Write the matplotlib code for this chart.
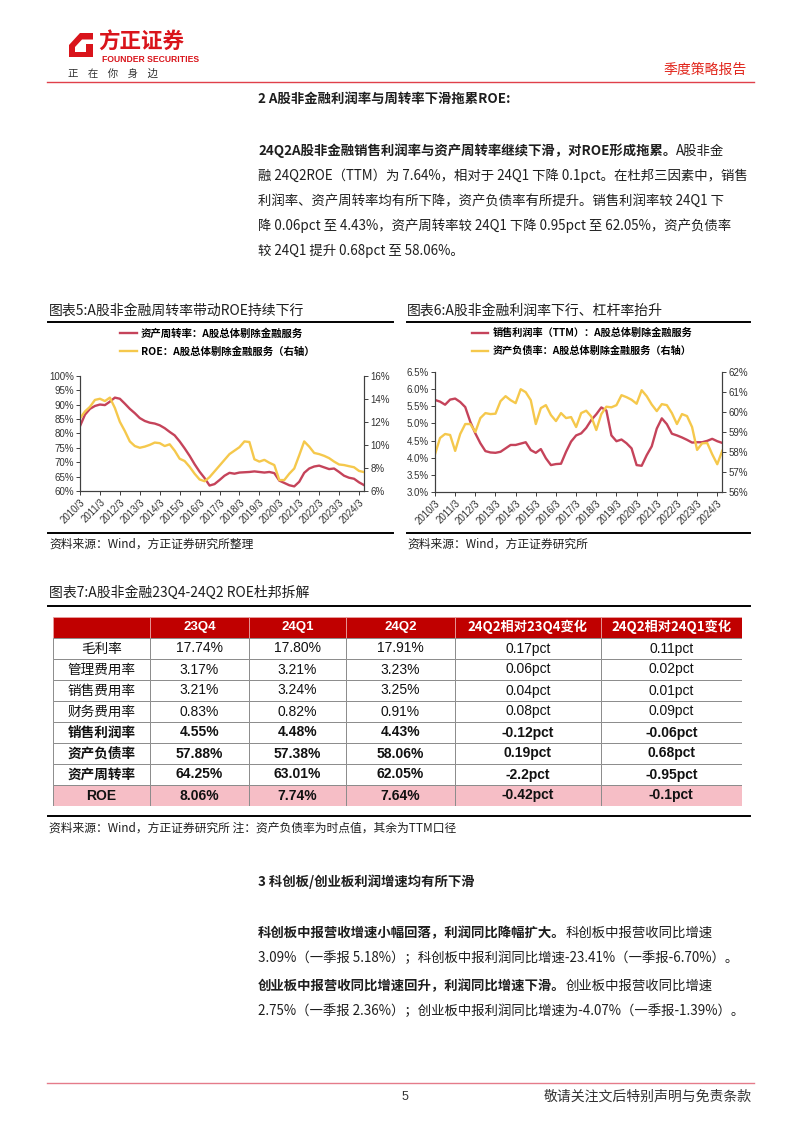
import matplotlib
matplotlib.use('Agg')
import matplotlib.pyplot as plt
from matplotlib.patches import Polygon, Rectangle
from matplotlib.lines import Line2D
import numpy as np

plt.rcParams['font.family'] = ['Noto Sans CJK SC', 'DejaVu Sans']
plt.rcParams['axes.unicode_minus'] = False

# ---------------- data ----------------
tick_labels = ['2010/3', '2011/3', '2012/3', '2013/3', '2014/3', '2015/3', '2016/3',
               '2017/3', '2018/3', '2019/3', '2020/3', '2021/3', '2022/3', '2023/3', '2024/3']

# 图表5 (quarterly 2010Q1 - 2024Q2)
turnover = [82.5, 86.5, 88.5, 89.5, 90.0, 89.8, 91.0, 92.4, 92.0, 90.3,
            88.5, 87.0, 85.3, 84.3, 83.7, 83.4, 82.8, 81.8, 80.5, 79.3,
            77.2, 74.8, 72.2, 69.3, 66.7, 64.5, 61.9, 62.4, 63.8, 65.3,
            66.3, 66.0, 66.4, 66.5, 66.6, 66.8, 66.6, 66.4, 66.6, 66.2,
            63.6, 62.8, 62.0, 61.6, 63.2, 66.3, 67.8, 68.5, 68.8, 68.2,
            67.6, 67.8, 66.6, 65.3, 64.6, 64.25, 63.01, 62.05]
roe = [12.3, 12.9, 13.3, 13.9, 14.0, 13.8, 14.1, 13.2, 12.0, 11.2,
       10.3, 9.9, 9.75, 9.85, 10.0, 10.2, 10.15, 9.9, 10.05, 9.5,
       8.8, 8.6, 8.1, 7.5, 7.0, 6.85, 7.2, 7.7, 8.2, 8.7,
       9.2, 9.5, 9.8, 10.3, 10.25, 8.75, 8.55, 8.7, 8.45, 8.25,
       6.95, 6.95, 7.5, 7.95, 9.1, 10.3, 9.85, 9.3, 9.2, 9.05,
       8.85, 8.55, 8.3, 8.25, 8.15, 8.06, 7.74, 7.64]

# 图表6
margin = [5.69, 5.64, 5.55, 5.70, 5.73, 5.63, 5.48, 5.05, 4.71, 4.42,
          4.19, 4.15, 4.14, 4.17, 4.27, 4.37, 4.37, 4.41, 4.45, 4.22,
          4.14, 4.25, 3.98, 3.78, 3.81, 3.82, 4.17, 4.47, 4.65, 4.71,
          4.87, 5.10, 5.27, 5.47, 5.38, 4.65, 4.48, 4.53, 4.42, 4.27,
          3.78, 3.76, 4.07, 4.33, 4.85, 5.15, 4.98, 4.70, 4.65, 4.59,
          4.52, 4.44, 4.45, 4.45, 4.49, 4.55, 4.48, 4.43]
debt = [57.88, 58.7, 58.9, 58.85, 58.05, 58.9, 59.4, 59.4, 59.0, 59.7,
        59.95, 59.9, 59.92, 60.55, 60.8, 60.6, 60.45, 61.15, 61.0, 60.6,
        59.4, 60.2, 60.35, 59.85, 59.55, 59.95, 59.7, 59.75, 59.25, 59.95,
        60.07, 59.78, 59.1, 59.9, 60.27, 60.24, 60.35, 60.85, 60.75, 60.62,
        60.42, 61.1, 60.8, 60.38, 60.05, 60.4, 60.35, 59.95, 59.4, 59.9,
        59.8, 59.25, 58.1, 58.43, 58.45, 57.88, 57.38, 58.06]

# 图表7
col_headers = ['', '23Q4', '24Q1', '24Q2', '24Q2相对23Q4变化', '24Q2相对24Q1变化']
row_labels = ['毛利率', '管理费用率', '销售费用率', '财务费用率', '销售利润率', '资产负债率', '资产周转率', 'ROE']
v23q4 = ['17.74%', '3.17%', '3.21%', '0.83%', '4.55%', '57.88%', '64.25%', '8.06%']
v24q1 = ['17.80%', '3.21%', '3.24%', '0.82%', '4.48%', '57.38%', '63.01%', '7.74%']
v24q2 = ['17.91%', '3.23%', '3.25%', '0.91%', '4.43%', '58.06%', '62.05%', '7.64%']
chg_vs_23q4 = ['0.17pct', '0.06pct', '0.04pct', '0.08pct', '-0.12pct', '0.19pct', '-2.2pct', '-0.42pct']
chg_vs_24q1 = ['0.11pct', '0.02pct', '0.01pct', '0.09pct', '-0.06pct', '0.68pct', '-0.95pct', '-0.1pct']

# ---------------- styles ----------------
RED = '#C5435A'
YEL = '#F5C84C'
BRAND = '#D9141B'
SANS = ['Liberation Sans', 'DejaVu Sans']
CJK = ['Noto Sans CJK SC', 'DejaVu Sans']
TXT = '#1e1e1e'

W, H = 802, 1133
fig = plt.figure(figsize=(W / 100, H / 100), dpi=100)
fig.patch.set_facecolor('white')
renderer = fig.canvas.get_renderer()


def fx(x):
    return x / W


def fy(y):
    return 1 - y / H


def hline(x0, x1, y, color='black', lw=1.0):
    fig.add_artist(Line2D([fx(x0), fx(x1)], [fy(y), fy(y)], color=color, lw=lw,
                          transform=fig.transFigure))


def seg_text(x, y, segments, size, color=TXT):
    cx = x
    for s, w in segments:
        t = fig.text(fx(cx), fy(y), s, fontsize=size, fontweight=w, color=color,
                     va='center', ha='left', family=CJK)
        cx += t.get_window_extent(renderer).width
    return cx


# ---------------- header ----------------
logo_outer = Polygon([(fx(69), fy(45)), (fx(80), fy(33)), (fx(93), fy(33)), (fx(93), fy(57)),
                      (fx(69), fy(57))], closed=True, facecolor=BRAND, edgecolor='none',
                     transform=fig.transFigure)
logo_inner = Polygon([(fx(75), fy(47)), (fx(82), fy(39.5)), (fx(93), fy(39.5)), (fx(93), fy(44)),
                      (fx(86), fy(44)), (fx(86), fy(52)), (fx(75), fy(52))], closed=True,
                     facecolor='white', edgecolor='none', transform=fig.transFigure)
fig.add_artist(logo_outer)
fig.add_artist(logo_inner)
fig.text(fx(98), fy(42), '方正证券', fontsize=15.5, fontweight='bold', color=BRAND,
         va='center', ha='left', family=CJK)
fig.text(fx(102), fy(60), 'FOUNDER SECURITIES', fontsize=6.2, fontweight='bold', color=BRAND,
         va='center', ha='left', family=['Liberation Sans Narrow', 'Liberation Sans', 'DejaVu Sans'])
fig.text(fx(68), fy(74), '正    在    你    身    边', fontsize=7.5, color='#333333',
         va='center', ha='left', family=CJK)
fig.text(fx(747), fy(70), '季度策略报告', fontsize=10, color='#E1251B', va='center', ha='right',
         family=CJK)
hline(47, 754, 82, color='#E0404A', lw=1.0)

# ---------------- section 2 text ----------------
probe = fig.text(0, 0, '融 24Q2ROE（TTM）为 7.64%，相对于 24Q1 下降 0.1pct。在杜邦三因素中，销售',
                 fontsize=10, family=CJK)
pw = probe.get_window_extent(renderer).width
probe.remove()
BODY = 10 * 490 / pw

X0 = 258
seg_text(X0, 99, [('2 A股非金融利润率与周转率下滑拖累ROE:', 'bold')], BODY)
seg_text(X0, 151, [('24Q2A股非金融销售利润率与资产周转率继续下滑，对ROE形成拖累。', 'bold'),
                   ('A股非金', 'normal')], BODY)
seg_text(X0, 176, [('融 24Q2ROE（TTM）为 7.64%，相对于 24Q1 下降 0.1pct。在杜邦三因素中，销售', 'normal')], BODY)
seg_text(X0, 201, [('利润率、资产周转率均有所下降，资产负债率有所提升。销售利润率较 24Q1 下', 'normal')], BODY)
seg_text(X0, 226, [('降 0.06pct 至 4.43%，资产周转率较 24Q1 下降 0.95pct 至 62.05%，资产负债率', 'normal')], BODY)
seg_text(X0, 251, [('较 24Q1 提升 0.68pct 至 58.06%。', 'normal')], BODY)

# ---------------- chart titles ----------------
fig.text(fx(49), fy(311), '图表5:A股非金融周转率带动ROE持续下行', fontsize=10, color=TXT,
         va='center', ha='left', family=CJK)
fig.text(fx(407), fy(311), '图表6:A股非金融利润率下行、杠杆率抬升', fontsize=10, color=TXT,
         va='center', ha='left', family=CJK)
hline(48, 393, 321.5, lw=1.4)
hline(407, 750, 321.5, lw=1.4)
hline(48, 393, 533, lw=1.4)
hline(407, 750, 533, lw=1.4)
fig.text(fx(49), fy(544), '资料来源：Wind，方正证券研究所整理', fontsize=8.5, color=TXT,
         style='italic', va='center', ha='left', family=CJK)
fig.text(fx(407), fy(544), '资料来源：Wind，方正证券研究所', fontsize=8.5, color=TXT,
         style='italic', va='center', ha='left', family=CJK)

x = np.arange(len(turnover))
tick_pos = list(range(0, 57, 4))


def style_axes(ax, axr):
    for a in (ax, axr):
        a.spines['top'].set_visible(False)
        for s in ('left', 'right', 'bottom'):
            a.spines[s].set_color('#404040')
            a.spines[s].set_linewidth(0.8)
        a.tick_params(axis='both', direction='out', length=3, width=0.7, color='#404040',
                      labelsize=7, labelcolor='#333333', pad=1.5)
        for lab in a.get_yticklabels():
            lab.set_family(SANS)
    ax.set_xlim(0, 57)
    ax.set_xticks(tick_pos)
    ax.set_xticklabels(tick_labels, rotation=45, ha='right', rotation_mode='anchor',
                       family=SANS, fontsize=7, color='#333333')
    ax.set_facecolor('none')


# ---------------- chart 5 ----------------
ax5 = fig.add_axes([fx(80), fy(491), fx(364) - fx(80), (491 - 375.7) / H])
ax5.plot(x, turnover, color=RED, lw=1.7)
ax5.set_ylim(60, 100)
ax5.set_yticks(range(60, 101, 5))
ax5.set_yticklabels([f'{v}%' for v in range(60, 101, 5)])
ax5r = ax5.twinx()
ax5r.plot(x, roe, color=YEL, lw=1.7)
ax5r.set_ylim(6, 16)
ax5r.set_yticks(range(6, 17, 2))
ax5r.set_yticklabels([f'{v}%' for v in range(6, 17, 2)])
style_axes(ax5, ax5r)

h5 = [Line2D([], [], color=RED, lw=1.7), Line2D([], [], color=YEL, lw=1.7)]
fig.legend(h5, ['资产周转率：A股总体剔除金融服务', 'ROE：A股总体剔除金融服务（右轴）'],
           loc='upper left', bbox_to_anchor=(fx(120), fy(328)), frameon=False,
           prop=dict(family=CJK, weight='bold', size=7.5), handlelength=1.6, handletextpad=0.4,
           labelspacing=0.75, borderaxespad=0, borderpad=0)

# ---------------- chart 6 ----------------
ax6 = fig.add_axes([fx(435), fy(491.7), fx(722.3) - fx(435), (491.7 - 372.3) / H])
ax6.plot(x, margin, color=RED, lw=1.7)
ax6.set_ylim(3.0, 6.5)
yt6 = [3.0, 3.5, 4.0, 4.5, 5.0, 5.5, 6.0, 6.5]
ax6.set_yticks(yt6)
ax6.set_yticklabels([f'{v:.1f}%' for v in yt6])
ax6r = ax6.twinx()
ax6r.plot(x, debt, color=YEL, lw=1.7)
ax6r.set_ylim(56, 62)
ax6r.set_yticks(range(56, 63))
ax6r.set_yticklabels([f'{v}%' for v in range(56, 63)])
style_axes(ax6, ax6r)

h6 = [Line2D([], [], color=RED, lw=1.7), Line2D([], [], color=YEL, lw=1.7)]
fig.legend(h6, ['销售利润率（TTM）：A股总体剔除金融服务', '资产负债率：A股总体剔除金融服务（右轴）'],
           loc='upper left', bbox_to_anchor=(fx(472), fy(328)), frameon=False,
           prop=dict(family=CJK, weight='bold', size=7.3), handlelength=1.6, handletextpad=0.4,
           labelspacing=0.78, borderaxespad=0, borderpad=0)

# ---------------- table 7 ----------------
fig.text(fx(49), fy(593), '图表7:A股非金融23Q4-24Q2 ROE杜邦拆解', fontsize=10, color=TXT,
         va='center', ha='left', family=CJK)
hline(48, 750, 606, lw=1.4)

T_LEFT, T_RIGHT, T_TOP, T_BOT = 52.8, 742.0, 616.5, 805.5
tab = fig.add_axes([fx(T_LEFT), fy(T_BOT), fx(T_RIGHT) - fx(T_LEFT), (T_BOT - T_TOP) / H])
tab.set_xlim(0, T_RIGHT - T_LEFT)
tab.set_ylim(T_BOT - T_TOP, 0)
tab.axis('off')
col_edges = [0, 97.2, 195.9, 293.2, 402.2, 547.8, 689.2]
row_h = 21.0
columns = [row_labels, v23q4, v24q1, v24q2, chg_vs_23q4, chg_vs_24q1]
n_rows = len(row_labels)

# header
for c in range(6):
    tab.add_patch(Rectangle((col_edges[c], 0), col_edges[c + 1] - col_edges[c], row_h,
                            facecolor='#C00000', edgecolor='#E8A0A0', lw=0.6))
    if col_headers[c]:
        tab.text((col_edges[c] + col_edges[c + 1]) / 2, row_h / 2, col_headers[c], color='white',
                 fontsize=9.5, fontweight='bold', ha='center', va='center',
                 family=['Liberation Sans', 'Noto Sans CJK SC'] if c < 4 else CJK)
# body
for r in range(n_rows):
    y0 = row_h * (r + 1)
    fill = '#F6BEC6' if row_labels[r] == 'ROE' else 'white'
    bold = 'bold' if r >= 4 else 'normal'
    for c in range(6):
        tab.add_patch(Rectangle((col_edges[c], y0), col_edges[c + 1] - col_edges[c], row_h,
                                facecolor=fill, edgecolor='#8C8C8C', lw=0.7))
        txt = columns[c][r]
        if c == 0:
            fam = SANS if txt == 'ROE' else CJK
            size = 10 if txt == 'ROE' else 9.8
        else:
            fam = SANS
            size = 10
        tab.text((col_edges[c] + col_edges[c + 1]) / 2, y0 + row_h / 2 + 0.5, txt,
                 color='#111111', fontsize=size, fontweight=bold, ha='center', va='center',
                 family=fam)

hline(48, 750, 816, lw=1.4)
fig.text(fx(49), fy(828), '资料来源：Wind，方正证券研究所 注：资产负债率为时点值，其余为TTM口径',
         fontsize=8.5, color=TXT, style='italic', va='center', ha='left', family=CJK)

# ---------------- section 3 text ----------------
seg_text(X0, 882, [('3 科创板/创业板利润增速均有所下滑', 'bold')], BODY)
seg_text(X0, 933, [('科创板中报营收增速小幅回落，利润同比降幅扩大。', 'bold'),
                   ('科创板中报营收同比增速', 'normal')], BODY)
seg_text(X0, 958, [('3.09%（一季报 5.18%）；科创板中报利润同比增速-23.41%（一季报-6.70%）。', 'normal')], BODY)
seg_text(X0, 986, [('创业板中报营收同比增速回升，利润同比增速下滑。', 'bold'),
                   ('创业板中报营收同比增速', 'normal')], BODY)
seg_text(X0, 1011, [('2.75%（一季报 2.36%）；创业板中报利润同比增速为-4.07%（一季报-1.39%）。', 'normal')], BODY)

# ---------------- footer ----------------
hline(47, 754, 1083, color='#E57B8A', lw=1.0)
fig.text(fx(405), fy(1097), '5', fontsize=9, color='#333333', va='center', ha='center', family=SANS)
fig.text(fx(752), fy(1097), '敬请关注文后特别声明与免责条款', fontsize=10, color='#333333',
         va='center', ha='right', family=CJK)

fig.savefig('out.png', dpi=100, facecolor='white')
